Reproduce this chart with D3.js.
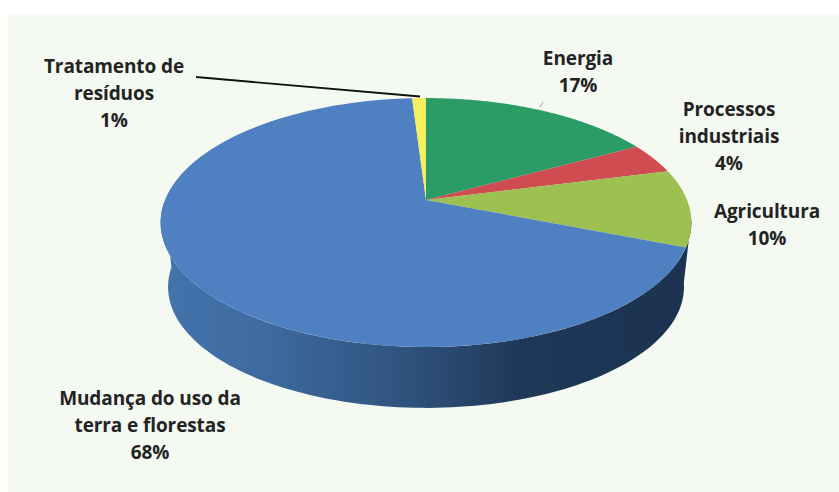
<!DOCTYPE html>
<html>
<head>
<meta charset="utf-8">
<script src="https://cdn.jsdelivr.net/npm/d3@7"></script>
<style>
  html, body { margin: 0; padding: 0; background: #fff; }
  svg { display: block; }
  text { font-family: "Open Sans", sans-serif; font-weight: 700; fill: #232323; font-size: 19px; text-anchor: middle; letter-spacing: -0.1px; }
</style>
</head>
<body>
<svg id="chart" width="839" height="492"></svg>
<script>
// Emissions by sector, in percent, clockwise from twelve o'clock.
const sectors = ["Energia", "Processos industriais", "Agricultura", "Mudança do uso da terra e florestas", "Tratamento de resíduos"];
const shares = [17, 4, 10, 68, 1];
const colors = ["#2b9c65", "#cf4c50", "#9dc151", "#4e80c2", "#f6ee5e"];
const labelLines = [
  ["Energia", "17%"],
  ["Processos", "industriais", "4%"],
  ["Agricultura", "10%"],
  ["Mudança do uso da", "terra e florestas", "68%"],
  ["Tratamento de", "resíduos", "1%"]
];
const labelAnchors = [[578, 65], [729, 116], [767, 218], [150, 405], [114, 73]];

const svg = d3.select("#chart");

// Panel behind the chart, running off the right and bottom edges
svg.append("rect").attr("x", 8).attr("y", 14).attr("width", 831).attr("height", 478).attr("fill", "#f4f9f1");

// Perspective disc: a unit circle seen from the front edge, so the hub sits
// above the centre of the outline ellipse.
const hub = { x: 426, y: 200 };
const radiusX = 261, radiusY = 120.4, tilt = 0.181;
function project(angle, scale = 1, dy = 0) {
  const u = Math.sin(angle), v = -Math.cos(angle), d = 1 - tilt * v;
  return [hub.x + scale * radiusX * u / d, hub.y + dy + scale * radiusY * v / d];
}
const line = d3.line();
const arcPoints = (a0, a1, scale, dy) =>
  d3.range(0, 121).map(i => project(a0 + (a1 - a0) * i / 120, scale, dy));

const pie = d3.pie().sort(null).value(d => d);
const slices = pie(shares);

// Visible wall of the disc, shaded left to right
const defs = svg.append("defs");
const wallGrad = defs.append("linearGradient").attr("id", "wall")
  .attr("gradientUnits", "userSpaceOnUse").attr("x1", 160).attr("x2", 691).attr("y1", 0).attr("y2", 0);
[[0, "#4474ad"], [0.2, "#3e6a9f"], [0.45, "#30547f"], [0.68, "#1f3858"], [1, "#1b3250"]]
  .forEach(([o, c]) => wallGrad.append("stop").attr("offset", o).attr("stop-color", c));

const wallFrom = Math.PI * 0.5 + 0.15, wallTo = Math.PI * 1.5 - 0.02;
const wallDepth = 65, wallScale = 0.972;
svg.append("path")
  .attr("d", line([...arcPoints(wallFrom, wallTo, 1, 0), ...arcPoints(wallTo, wallFrom, wallScale, wallDepth)]) + "Z")
  .attr("fill", "url(#wall)");

// Top face
svg.append("g").selectAll("path").data(slices).join("path")
  .attr("d", d => line([[hub.x, hub.y], ...arcPoints(d.startAngle, d.endAngle, 1, 0)]) + "Z")
  .attr("fill", (d, i) => colors[i]);

// Leader lines
svg.append("line").attr("x1", 196).attr("y1", 77).attr("x2", 420).attr("y2", 96.5)
  .attr("stroke", "#111").attr("stroke-width", 1.8);
svg.append("line").attr("x1", 543).attr("y1", 102).attr("x2", 540).attr("y2", 107)
  .attr("stroke", "#9a9a9a").attr("stroke-width", 1);

// Labels
const labels = svg.append("g").selectAll("text").data(labelLines).join("text")
  .attr("transform", (d, i) => `translate(${labelAnchors[i][0]},${labelAnchors[i][1]})`);
labels.selectAll("tspan").data(d => d).join("tspan")
  .attr("x", 0).attr("y", (d, i) => i * 27).text(d => d);
</script>
</body>
</html>
